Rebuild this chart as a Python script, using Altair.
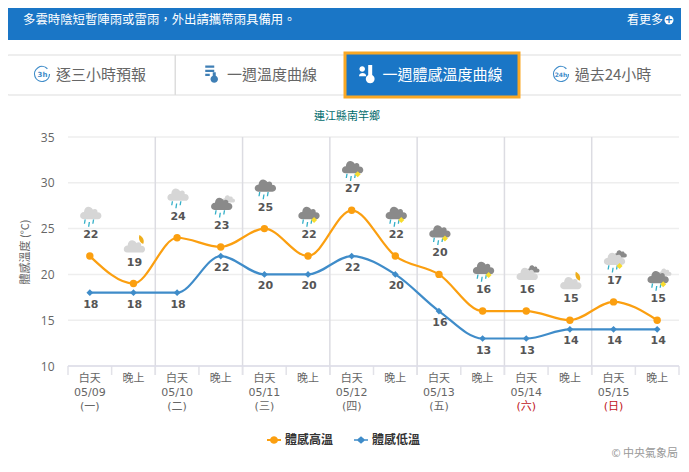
import altair as alt
import pandas as pd

high = [22, 19, 24, 23, 25, 22, 27, 22, 20, 16, 16, 15, 17, 15]
low = [18, 18, 18, 22, 20, 20, 22, 20, 16, 13, 13, 14, 14, 14]
periods = ["白天", "晚上"] * 7
dates = ["05/09", "", "05/10", "", "05/11", "", "05/12", "", "05/13", "", "05/14", "", "05/15", ""]
weekdays = ["(一)", "", "(二)", "", "(三)", "", "(四)", "", "(五)", "", "(六)", "", "(日)", ""]
weekend = ["(六)", "(日)"]
main_cloud = ["L", "L", "L", "D", "D", "D", "D", "D", "D", "D", "L", "L", "L", "D"]
back_cloud = ["", "", "", "L", "", "", "", "", "", "", "D", "", "D", "L"]
rain_flag = [1, 0, 1, 1, 1, 1, 1, 1, 1, 1, 0, 0, 1, 1]
sun_flag = [0, 0, 0, 0, 0, 1, 1, 1, 1, 1, 0, 0, 1, 1]
moon_flag = [0, 1, 0, 0, 0, 0, 0, 0, 0, 0, 0, 1, 0, 0]
series_names = ["體感高溫", "體感低溫"]
y_ticks = [10, 15, 20, 25, 30, 35]
banner_text = "多雲時陰短暫陣雨或雷雨\uff0c外出請攜帶雨具備用。"
tab_labels = ["逐三小時預報", "一週溫度曲線", "一週體感溫度曲線", "過去24小時"]
location = "連江縣南竿鄉"

FONT = "DejaVu Sans, Noto Sans CJK TC, sans-serif"
CJK = "Noto Sans CJK TC, sans-serif"
BLUE = "#1a76c6"
ORANGE = "#fb9f10"
LOWBLUE = "#3f8cc9"
OX, OY = 68, 137
W, H = 611, 229

CLOUD = "M-0.65 0.55C-1.08 0.55 -1.08 -0.08 -0.62 -0.1C-0.6 -0.62 -0.05 -0.72 0.18 -0.32C0.42 -0.48 0.66 -0.3 0.6 -0.08C1.08 -0.1 1.08 0.55 0.65 0.55Z"
RAIN = ("M-0.72 -0.6L-0.5 -0.6L-0.62 0.1L-0.84 0.1Z"
        "M-0.02 -0.2L0.2 -0.2L0.08 0.6L-0.14 0.6Z"
        "M0.68 -0.6L0.9 -0.6L0.78 0.1L0.56 0.1Z")
MOON = "M-0.25 -1C0.55 -0.6 0.95 0.2 0.6 1C0.1 0.8 -0.55 0.2 -0.25 -1Z"
LEG_HIGH = "M-1 -0.13H-0.55A0.58 0.58 0 0 1 0.55 -0.13H1V0.13H0.55A0.58 0.58 0 0 1 -0.55 0.13H-1Z"
LEG_LOW = "M-1 -0.12H-0.5L0 -0.55L0.5 -0.12H1V0.12H0.5L0 0.55L-0.5 0.12H-1Z"
RING = "M0.72 -0.7A1 1 0 1 0 1 0"
THERMO = "M-0.9 -1H0.3V-0.7H-0.9ZM-0.9 -0.45H0.3V-0.15H-0.9ZM-0.9 0.1H-0.3V0.4H-0.9ZM0.1 -0.1H0.5V0.35A0.5 0.5 0 1 1 0.1 0.35Z"
PERSON = "M-0.95 -0.5A0.35 0.35 0 1 1 -0.25 -0.5A0.35 0.35 0 1 1 -0.95 -0.5ZM-1 0.4C-1 -0.15 -0.1 -0.15 -0.1 0.4ZM0.15 -1H0.65V0.25A0.55 0.55 0 1 1 0.15 0.25Z"

pos = [i + 0.5 for i in range(14)]
base = pd.DataFrame({
    "pos": pos, "high": high, "low": low, "period": periods, "date": dates,
    "weekday": weekdays, "main": main_cloud, "back": back_cloud,
    "rain": rain_flag, "sun": sun_flag, "moon": moon_flag,
})
long_df = pd.concat([
    pd.DataFrame({"pos": pos, "v": high, "s": series_names[0]}),
    pd.DataFrame({"pos": pos, "v": low, "s": series_names[1]}),
])
one = pd.DataFrame({"a": [0]})

X = alt.X("pos:Q", scale=alt.Scale(domain=[0, 14]), axis=None)
YS = alt.Scale(domain=[10, 35], nice=False, zero=False)
AX = alt.Axis(
    values=y_ticks, title="體感溫度 (°C)", titleFont=CJK, titleFontSize=11, titleFontWeight="normal",
    titleColor="#666666", titlePadding=10, domain=False, ticks=False, grid=False,
    labelColor="#666666", labelFont="Open Sans", labelFontSize=12, labelPadding=14)


def Y(field):
    return alt.Y(field + ":Q", scale=YS, axis=AX)


def box(x0, y0, x1, y1, fill, stroke=None, sw=1, r=0):
    kw = {"fill": fill, "cornerRadius": r}
    if stroke:
        kw.update(stroke=stroke, strokeWidth=sw)
    return alt.Chart(one).mark_rect(**kw).encode(
        x=alt.value(x0 - OX), x2=alt.value(x1 - OX),
        y=alt.value(y0 - OY), y2=alt.value(y1 - OY))


def label(x, y, s, size=12, color="#666666", align="center", weight="normal", font=CJK):
    return alt.Chart(one).mark_text(
        fontSize=size, color=color, align=align, baseline="middle", fontWeight=weight, font=font
    ).encode(x=alt.value(x - OX), y=alt.value(y - OY), text=alt.value(s))


def glyph(x, y, shape, px, fill=None, stroke=None, sw=1.2):
    if fill:
        m = alt.Chart(one).mark_point(shape=shape, filled=True, fill=fill, size=px * px, opacity=1, strokeWidth=0)
    else:
        m = alt.Chart(one).mark_point(shape=shape, filled=False, stroke=stroke, strokeWidth=sw, size=px * px, opacity=1)
    return m.encode(x=alt.value(x - OX), y=alt.value(y - OY))


chrome = [
    box(3, 2, 688, 40, BLUE, r=4),
    label(23, 20, banner_text, 12.4, "#ffffff", "left"),
    label(663, 20, "看更多", 12, "#ffffff", "right"),
    glyph(669, 20, "circle", 9, fill="#ffffff"),
    label(669, 20, "+", 10, BLUE, "center", "bold", "DejaVu Sans"),
    box(4, 55, 688, 95, "#ffffff", "#dddddd", 1, 5),
    box(174.5, 55, 176, 95, "#dddddd"),
    box(345, 53, 519, 97, BLUE, "#f9a825", 3),
    glyph(42, 74, RING, 15, stroke="#3f8cc9"),
    label(42.5, 75, "3h", 7, "#3f8cc9", "center", "bold", "DejaVu Sans"),
    label(101, 75, tab_labels[0], 15),
    glyph(212, 73, THERMO, 15, fill="#3f7fb5"),
    label(272, 75, tab_labels[1], 15),
    glyph(367, 73, PERSON, 16, fill="#ffffff"),
    label(442.5, 75, tab_labels[2], 15, "#ffffff"),
    glyph(561, 74, RING, 15, stroke="#3f8cc9"),
    label(561, 75, "24h", 6, "#3f8cc9", "center", "bold", "DejaVu Sans"),
    label(613, 75, tab_labels[3], 15),
    label(347, 117, location, 11, "#006b6b"),
    label(678, 454, "© 中央氣象局", 11, "#999999", "right"),
]

grid = alt.Chart(pd.DataFrame({"t": y_ticks})).mark_rule(color="#eeeeee", strokeWidth=1.5).encode(
    x=alt.value(0), x2=alt.value(W), y=Y("t"))

day_rules = alt.Chart(pd.DataFrame({"pos": [2, 4, 6, 8, 10, 12]})).mark_rule(color="#dcdce2", strokeWidth=1.5).encode(
    x=X, y=alt.value(0), y2=alt.value(H + 9))
ticks = alt.Chart(pd.DataFrame({"pos": list(range(15))})).mark_rule(color="#e2e2e8", strokeWidth=1.5).encode(
    x=X, y=alt.value(H), y2=alt.value(H + 9))
axis_line = alt.Chart(one).mark_rule(color="#dddde8", strokeWidth=1.5).encode(
    x=alt.value(0), x2=alt.value(W), y=alt.value(H))

line_high = alt.Chart(base).mark_line(color=ORANGE, strokeWidth=2.2, interpolate="monotone").encode(x=X, y=Y("high"))
line_low = alt.Chart(base).mark_line(color=LOWBLUE, strokeWidth=2.2, interpolate="monotone").encode(x=X, y=Y("low"))
pts_high = alt.Chart(base).mark_point(shape="circle", filled=True, fill=ORANGE, size=55, opacity=1, strokeWidth=0).encode(x=X, y=Y("high"))
pts_low = alt.Chart(base).mark_point(shape="diamond", filled=True, fill=LOWBLUE, size=45, opacity=1, strokeWidth=0).encode(x=X, y=Y("low"))

LEG = alt.Legend(
    orient="none", legendX=199, legendY=296, direction="horizontal", title=None, columnPadding=20,
    labelFont=CJK, labelFontSize=12, labelFontWeight="bold", labelColor="#333333", labelOffset=4,
    symbolSize=196, symbolOpacity=1, symbolStrokeWidth=0)
legend_layer = alt.Chart(long_df).mark_point(filled=True, opacity=0, size=196).encode(
    x=X, y=Y("v"),
    color=alt.Color("s:N", scale=alt.Scale(domain=series_names, range=[ORANGE, LOWBLUE]), legend=LEG),
    shape=alt.Shape("s:N", scale=alt.Scale(domain=series_names, range=[LEG_HIGH, LEG_LOW]), legend=LEG))


def icon_part(df, shape, px, color, dx, dy):
    layers = []
    for flag, basey in ((1, -43), (0, -37)):
        sub = df[df["rain"] == flag]
        if sub.empty:
            continue
        layers.append(alt.Chart(sub).mark_point(
            shape=shape, filled=True, fill=color, size=px * px, opacity=1, strokeWidth=0,
            xOffset=1 + dx, yOffset=basey + dy
        ).encode(x=X, y=Y("high")))
    return layers


icons = []
icons += icon_part(base[base["back"] == "L"], CLOUD, 13, "#d6d6d6", 7, -5)
icons += icon_part(base[base["back"] == "D"], CLOUD, 13, "#8a8a8a", 6, -5)
icons += icon_part(base[base["main"] == "L"], CLOUD, 22, "#d6d6d6", 0, 0)
icons += icon_part(base[base["main"] == "D"], CLOUD, 22, "#8a8a8a", 0, 0)
icons += icon_part(base[base["rain"] == 1], RAIN, 12, "#35b0c8", -2, 10)
icons += icon_part(base[base["sun"] == 1], "diamond", 6, "#f7dc2f", 5, 7)
icons += icon_part(base[base["moon"] == 1], MOON, 9, "#eeae1c", 6, -7)

num = dict(font="DejaVu Sans", fontSize=11, fontWeight="bold", color="#555555", baseline="middle", align="center")
text_high = alt.Chart(base).mark_text(dy=-21, dx=1, **num).encode(x=X, y=Y("high"), text="high:Q")
text_low = alt.Chart(base).mark_text(dy=12, dx=1, **num).encode(x=X, y=Y("low"), text="low:Q")

row = dict(font=FONT, fontSize=11, baseline="middle", align="center")
t_period = alt.Chart(base).mark_text(color="#666666", **row).encode(x=X, y=alt.value(242), text="period:N")
t_date = alt.Chart(base[base["date"] != ""]).mark_text(color="#666666", **row).encode(x=X, y=alt.value(256), text="date:N")
t_week = alt.Chart(base[base["weekday"] != ""]).mark_text(**row).encode(
    x=X, y=alt.value(270), text="weekday:N",
    color=alt.condition(alt.FieldOneOfPredicate("weekday", weekend), alt.value("#c0141a"), alt.value("#666666")))

chart = alt.layer(
    grid, day_rules, ticks, axis_line, *chrome,
    line_high, line_low, pts_high, pts_low, legend_layer, *icons,
    text_high, text_low, t_period, t_date, t_week,
).properties(
    width=W, height=H,
    padding={"left": 60, "top": 129, "right": 2, "bottom": 96},
    autosize=alt.AutoSizeParams(type="none"),
    background="#ffffff",
).configure_view(stroke=None)

chart.save("out.html", embed_options={"renderer": "svg", "actions": False})
